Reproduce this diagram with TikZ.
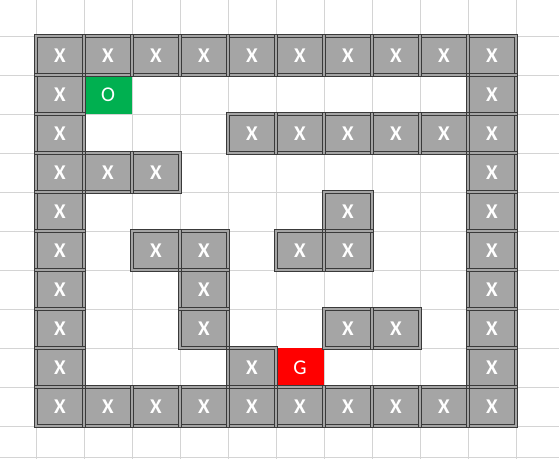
\documentclass[tikz,border=0pt]{standalone}
\usepackage{fontspec}
\setmainfont{Carlito}
\begin{document}
\begin{tikzpicture}[x=1pt,y=-1pt]
\definecolor{gridc}{HTML}{D4D4D4}
\definecolor{wallfill}{HTML}{A5A5A5}
\definecolor{wallline}{HTML}{3A3A3A}
\definecolor{startc}{HTML}{00B050}
\definecolor{goalc}{HTML}{FF0000}
\tikzset{
  gridline/.style={draw=gridc, line width=0.9pt},
  cellbase/.style={minimum width=48pt, minimum height=39pt, inner sep=0pt, outer sep=0pt, text=white},
  wall/.style={cellbase, minimum width=50.4pt, minimum height=41.4pt, fill=wallfill, font=\bfseries\fontsize{21}{21}\selectfont},
  walledge/.style={draw=wallline, line width=0.95pt},
  startcell/.style={cellbase, fill=startc, font=\fontsize{21}{21}\selectfont},
  goalcell/.style={cellbase, fill=goalc, font=\fontsize{21}{21}\selectfont}
}
\useasboundingbox (0,0) rectangle (559,459);
\fill[white] (0,0) rectangle (559,459);
% spreadsheet grid
\foreach \k in {0,...,10} {
  \draw[gridline] (36+48*\k,0) -- (36+48*\k,459);
  \draw[gridline] (0,36+39*\k) -- (559,36+39*\k);
}
\draw[gridline] (0,457) -- (559,457);
% start and goal
\node[startcell] (start) at (36+48*1+24, 36+39*1+19.5) {O};
\node[goalcell] (goal) at (36+48*5+24, 36+39*8+19.5) {G};
% walls
\def\walllist{0/0,1/0,2/0,3/0,4/0,5/0,6/0,7/0,8/0,9/0,
  0/1,9/1,
  0/2,4/2,5/2,6/2,7/2,8/2,9/2,
  0/3,1/3,2/3,9/3,
  0/4,6/4,9/4,
  0/5,2/5,3/5,5/5,6/5,9/5,
  0/6,3/6,9/6,
  0/7,3/7,6/7,7/7,9/7,
  0/8,4/8,9/8,
  0/9,1/9,2/9,3/9,4/9,5/9,6/9,7/9,8/9,9/9}
\foreach \c/\r in \walllist {
  \node[wall] (w-\c-\r) at (36+48*\c+24, 36+39*\r+19.5) {X};
}
\foreach \c/\r in \walllist {
  \draw[walledge] (w-\c-\r.south west) rectangle (w-\c-\r.north east);
  \draw[walledge] ([shift={(2.4pt,2.4pt)}]w-\c-\r.south west) rectangle ([shift={(-2.4pt,-2.4pt)}]w-\c-\r.north east);
}
\end{tikzpicture}
\end{document}
